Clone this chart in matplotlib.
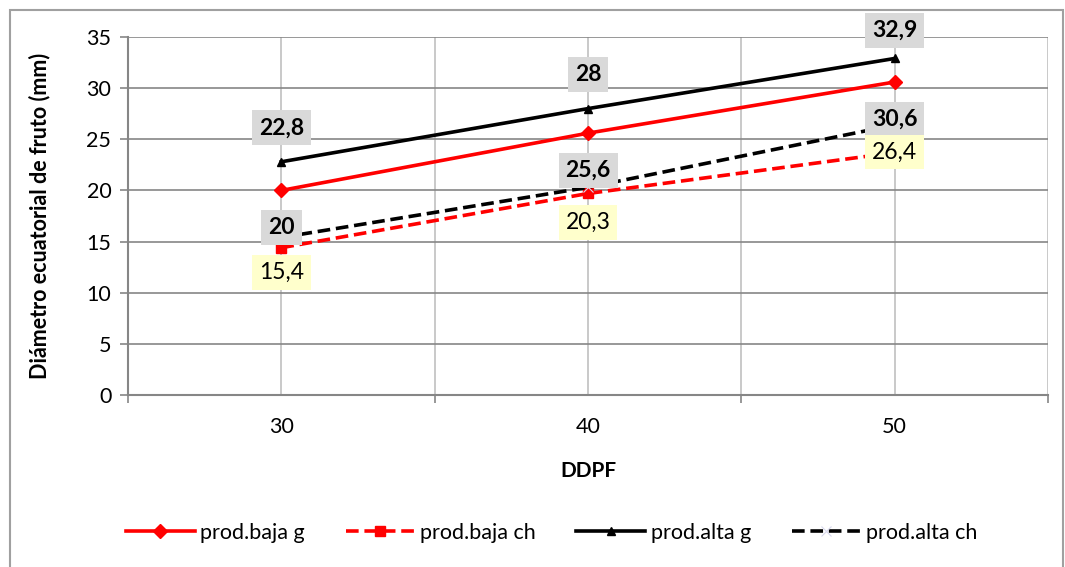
import matplotlib.pyplot as plt
from matplotlib.patches import Rectangle

plt.rcParams["font.family"] = ["Lato", "DejaVu Sans"]

ddpf = ["30", "40", "50"]
baja_g = [20, 25.6, 30.6]
baja_ch = [14.4, 19.7, 23.7]
alta_g = [22.8, 28, 32.9]
alta_ch = [15.4, 20.3, 26.4]

fig = plt.figure(figsize=(10.65, 5.67), dpi=100)
ax = fig.add_axes([128 / 1065, 1 - 395 / 567, 920 / 1065, 358 / 567])

x = range(len(ddpf))

# --------------------- SERIES ---------------------
ax.plot(x, baja_g, color="red", lw=2.6, marker="D", ms=7,
        label="prod.baja g", zorder=4)
ax.plot(x, baja_ch, color="red", lw=2.6, ls=(0, (3.5, 1.6)), marker="s",
        ms=6.5, label="prod.baja ch", zorder=3)
ax.plot(x, alta_g, color="black", lw=2.6, marker="^", ms=6,
        label="prod.alta g", zorder=4)
ax.plot(x, alta_ch, color="black", lw=2.6, ls=(0, (3.5, 1.6)), marker="x",
        ms=7, mec="#d8d8ec", mew=0.8, label="prod.alta ch", zorder=3)

# --------------------- DATA LABELS ---------------------
gray_box = dict(boxstyle="square,pad=0.3", fc="#d9d9d9", ec="none")
yellow_box = dict(boxstyle="square,pad=0.3", fc="#ffffcc", ec="none")

def fmt(v):
    return ("%g" % v).replace(".", ",")

alta_off = [34, 34, 28]
for i, v in enumerate(alta_g):
    ax.annotate(fmt(v), (i, v), xytext=(0, alta_off[i]), textcoords="offset pixels",
                ha="center", va="center", fontsize=16.5, fontweight="bold",
                bbox=gray_box, zorder=6, annotation_clip=False)
for i, v in enumerate(baja_g):
    ax.annotate(fmt(v), (i, v), xytext=(0, -37), textcoords="offset pixels",
                ha="center", va="center", fontsize=16.5, fontweight="bold",
                bbox=gray_box, zorder=6)
ch_off = [-35, -35, -27]
for i, v in enumerate(alta_ch):
    ax.annotate(fmt(v), (i, v), xytext=(0, ch_off[i]), textcoords="offset pixels",
                ha="center", va="center", fontsize=16.5,
                bbox=yellow_box, zorder=6)

# --------------------- AXES ---------------------
ax.set_xlim(-0.5, 2.5)
ax.set_ylim(0, 35)
ax.set_yticks(range(0, 36, 5))
ax.set_xticks(list(x))
ax.set_xticklabels(ddpf)
ax.set_xticks([-0.5, 0.5, 1.5, 2.5], minor=True)
ax.tick_params(axis="x", which="major", length=0, labelsize=15.5, pad=16)
ax.tick_params(axis="x", which="minor", length=6, color="#868686", width=1.2)
ax.tick_params(axis="y", length=6, color="#868686", width=1.2, labelsize=15.5, pad=6)

ax.grid(axis="y", color="#868686", lw=1.2)
ax.grid(axis="x", which="both", color="#c0c0c0", lw=1.2)
ax.set_axisbelow(True)

for s in ["top", "right"]:
    ax.spines[s].set_visible(False)
for s in ["left", "bottom"]:
    ax.spines[s].set_color("#868686")
    ax.spines[s].set_linewidth(1.5)

ax.set_xlabel("DDPF", fontsize=15, fontweight="bold", labelpad=17)
ax.set_ylabel("Diámetro ecuatorial de fruto (mm)", fontsize=15.5,
              fontweight="bold", labelpad=26)

fig.legend(loc="center", bbox_to_anchor=(0.518, 1 - 533 / 567), ncol=4,
           frameon=False, fontsize=15.5, handlelength=3.2, handletextpad=0.25,
           columnspacing=1.9)

# outer chart frame
fig.patches.append(Rectangle((10 / 1065, -0.05), 1053 / 1065, 1.05 - 10 / 567,
                             transform=fig.transFigure, fill=False,
                             ec="#a0a0a0", lw=1.5))

fig.savefig("out.png", dpi=100)
